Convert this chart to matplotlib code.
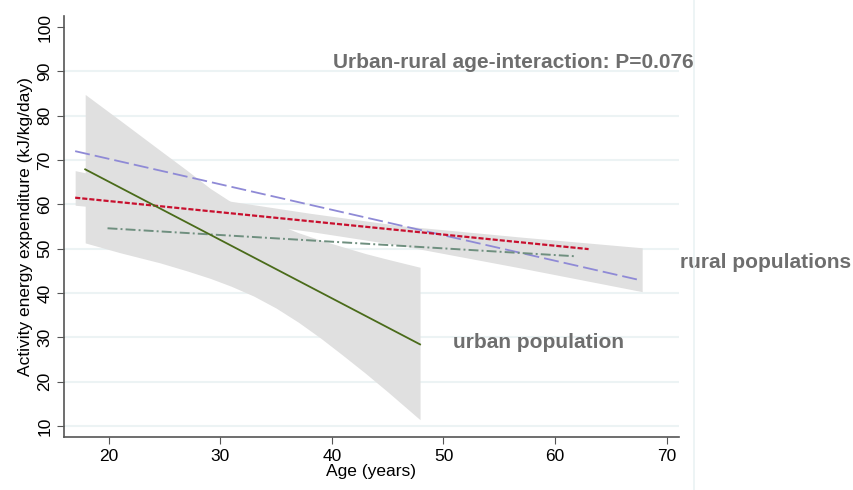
""" activity energy expenditure vs age """
import matplotlib
matplotlib.use('Agg')
import matplotlib.pyplot as plt
from matplotlib.lines import Line2D

plt.rcParams['font.family'] = ['Liberation Sans', 'DejaVu Sans']

# urban confidence band
urban_age = [17.9, 21.0, 24.6, 27.0, 29.1, 31.0, 33.0, 35.0, 37.0, 39.0, 41.0, 43.0, 45.0, 47.9]
urban_lo = [51.3, 49.1, 46.8, 45.0, 43.3, 41.5, 39.3, 36.6, 33.4, 29.8, 25.9, 21.9, 17.7, 11.4]
urban_hi = [84.8, 79.0, 72.2, 67.7, 63.6, 60.5, 57.6, 55.6, 53.6, 51.9, 50.4, 48.9, 47.6, 45.8]

# rural confidence band
rural_age = [17.0, 24.0, 30.4, 38.0, 46.1, 57.0, 67.8]
rural_lo = [59.8, 58.1, 56.3, 53.9, 50.75, 45.6, 40.3]
rural_hi = [67.6, 63.9, 60.9, 58.0, 55.2, 52.6, 50.2]

# fitted lines (start, end)
urban_x, urban_y = [17.9, 47.9], [67.9, 28.4]
purple_x, purple_y = [17.0, 67.6], [72.0, 42.9]
red_x, red_y = [17.0, 63.0], [61.5, 49.9]
dashdot_x, dashdot_y = [19.9, 61.7], [54.6, 48.3]

grey_txt = '#6e6e6e'

fig = plt.figure(figsize=(8.54, 4.9), dpi=100)
ax = fig.add_axes([64/854, 1-437/490, (679-64)/854, (437-16)/490])

ax.fill_between(rural_age, rural_lo, rural_hi, color='#e0e0e0', lw=0, zorder=1)
ax.fill_between(urban_age, urban_lo, urban_hi, color='#e0e0e0', lw=0, zorder=1)

ax.plot(purple_x, purple_y, color='#8f8ad6', lw=1.3, dashes=(8.3, 2.8), zorder=3)
ax.plot(red_x, red_y, color='#c8102e', lw=1.6, dashes=(2.3, 0.9), zorder=3)
ax.plot(dashdot_x, dashdot_y, color='#6f8f7f', lw=1.4, dashes=(5.1, 1.6, 1.0, 1.6), zorder=3)
ax.plot(urban_x, urban_y, color='#4a6b1a', lw=1.3, zorder=3)

ax.set_xlim(16, 71.1)
ax.set_ylim(7.5, 102.5)
ax.set_xticks([20, 30, 40, 50, 60, 70])
ax.set_yticks(range(10, 101, 10))
for v in range(10, 100, 10):
    ax.axhline(v, color='#ecf3f4', lw=1.5, zorder=0)

for s in ['top', 'right']:
    ax.spines[s].set_visible(False)
for s in ['left', 'bottom']:
    ax.spines[s].set_color('#555555')
    ax.spines[s].set_linewidth(1.2)
ax.tick_params(axis='both', direction='out', length=5, color='#555555', labelsize=12.5)
plt.setp(ax.get_yticklabels(), rotation=90, va='center')

ax.set_xlabel('Age (years)', fontsize=12.5, labelpad=0)
ax.set_ylabel('Activity energy expenditure (kJ/kg/day)', fontsize=12.5, labelpad=3)

ax.text(40.1, 92, 'Urban-rural age-interaction: P=0.076', fontsize=15, fontweight='bold',
        color=grey_txt, va='center', ha='left', clip_on=False)
ax.text(71.2, 46.8, 'rural populations', fontsize=15, fontweight='bold',
        color=grey_txt, va='center', ha='left', clip_on=False)
ax.text(50.85, 28.8, 'urban population', fontsize=15, fontweight='bold',
        color=grey_txt, va='center', ha='left', clip_on=False)

fig.add_artist(Line2D([694/854, 694/854], [0, 1], color='#eaf2f3', lw=1.2))

fig.savefig('out.png', dpi=100)
